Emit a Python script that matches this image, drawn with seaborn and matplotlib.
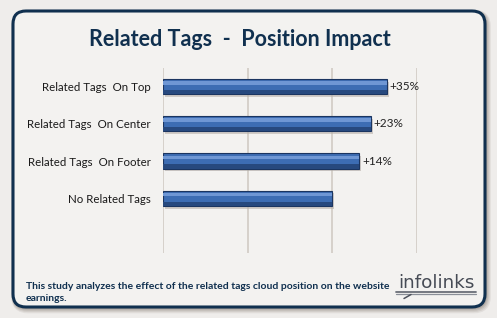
import numpy as np
import pandas as pd
import seaborn as sns
import matplotlib.pyplot as plt
from matplotlib.patches import FancyBboxPatch

# values (baseline = 100)
categories = ['Related Tags  On Top', 'Related Tags  On Center',
              'Related Tags  On Footer', 'No Related Tags']
scores = [132, 123, 116, 100]
value_labels = ['+35%', '+23%', '+14%', '']
grid_ticks = [0, 50, 100, 150]

title = 'Related Tags  -  Position Impact'
footnote = ('This study analyzes the effect of the related tags cloud position on the website\n'
            'earnings.')

sns.set_theme(style='white')
plt.rcParams['font.family'] = ['Lato', 'DejaVu Sans']

navy = '#10304f'
fig = plt.figure(figsize=(4.97, 3.18), dpi=100)
fig.patch.set_facecolor('#efedeb')

# background panel in pixel coordinates
bg = fig.add_axes([0, 0, 1, 1], zorder=0)
bg.set_xlim(0, 497)
bg.set_ylim(318, 0)
bg.axis('off')
for off, a in [(5, 0.10), (4, 0.12), (3, 0.15), (2, 0.2)]:
    bg.add_patch(FancyBboxPatch((13 + off * 0.4, 11 + off * 0.5), 472, 296,
                                boxstyle='round,pad=0,rounding_size=13',
                                facecolor='none', edgecolor='#6b5d52',
                                linewidth=off * 1.1, alpha=a))
bg.add_patch(FancyBboxPatch((13, 11), 472, 296,
                            boxstyle='round,pad=0,rounding_size=13',
                            facecolor='#f3f2f0', edgecolor=navy, linewidth=2.2))

bg.text(240, 39, title, ha='center', va='center', fontsize=15.5,
        fontweight='bold', color=navy)
bg.text(26, 292.5, footnote, ha='left', va='center', fontsize=7.5,
        fontweight='bold', color=navy, linespacing=1.3)
bg.text(436, 283.5, 'infolinks', ha='center', va='center', fontsize=13.2,
        color='#464b55', family='DejaVu Sans')
bg.plot([396, 476], [291.5, 291.5], color='#6a6f78', lw=1.3)
bg.plot([396, 476], [294.3, 294.3], color='#8a8f98', lw=0.9)
bg.plot([404, 411], [298.5, 294.5], color='#4d525c', lw=1.1)

# chart
ax = fig.add_axes([163 / 497, 1 - 253 / 318, (417 - 163) / 497, (253 - 68) / 318],
                  zorder=1)
ax.set_facecolor('none')
df = pd.DataFrame({'category': categories, 'score': scores})

# soft shadow behind the bars
sns.barplot(data=df, x='score', y='category', orient='h', ax=ax,
            color='#b9b2aa', width=0.41, saturation=1, alpha=0.6)
for p in ax.patches:
    p.set_x(p.get_x() + 1.2)
    p.set_y(p.get_y() + 0.07)
    p.set_edgecolor('none')
n_shadow = len(ax.patches)

sns.barplot(data=df, x='score', y='category', orient='h', ax=ax,
            color='#3d6db3', width=0.41, saturation=1,
            edgecolor='#1b3560', linewidth=0.8)
bars = ax.patches[n_shadow:]
# highlight stripe on each bar
for p in bars:
    ax.add_patch(plt.Rectangle((p.get_x(), p.get_y() + p.get_height() * 0.15),
                               p.get_width(), p.get_height() * 0.22,
                               facecolor='#6f97d4', edgecolor='none', zorder=3))
    ax.add_patch(plt.Rectangle((p.get_x(), p.get_y() + p.get_height() * 0.72),
                               p.get_width(), p.get_height() * 0.28,
                               facecolor='#27497e', edgecolor='none', zorder=3))

for p, lab in zip(bars, value_labels):
    if lab:
        ax.text(p.get_width() + 1.5, p.get_y() + p.get_height() / 2, lab,
                ha='left', va='center', fontsize=8.5, color='#222222')

ax.set_xlim(0, 150)
ax.set_ylim(4.47, -0.5)
ax.set_xticks(grid_ticks)
ax.xaxis.grid(True, color='#d3cec8', linewidth=1.3)
ax.set_axisbelow(True)
ax.set_xticklabels([])
ax.tick_params(axis='x', length=0)
ax.tick_params(axis='y', length=0, pad=9, labelsize=8.3, labelcolor='#1a1a1a')
ax.set_xlabel('')
ax.set_ylabel('')
for s in ax.spines.values():
    s.set_visible(False)

fig.savefig('out.png', dpi=100)
